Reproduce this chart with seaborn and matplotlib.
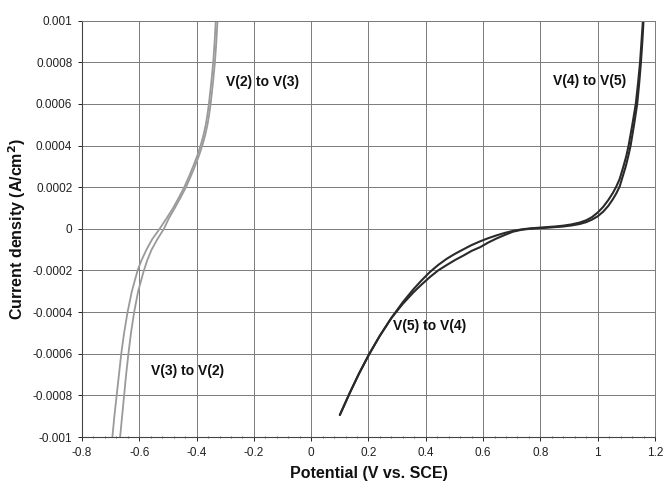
import numpy as np
import pandas as pd
import matplotlib
matplotlib.use("Agg")
import matplotlib.pyplot as plt
import seaborn as sns
from matplotlib.ticker import MultipleLocator

# V(2)/V(3) couple (two sweeps), potential in V, current density in A/cm2
v23_y = [-0.001, -0.0009, -0.0008, -0.0007, -0.0006, -0.0005, -0.0004, -0.0003, -0.0002, -0.00015,
         -0.0001, -0.00005, 0.0, 0.00005, 0.0001, 0.00015, 0.0002, 0.00025, 0.0003, 0.00035,
         0.0004, 0.00045, 0.0005, 0.00055, 0.0006, 0.0007, 0.0008, 0.0009, 0.001]
v23_outer_x = [-0.694, -0.687, -0.679, -0.671, -0.663, -0.653, -0.641, -0.626, -0.606, -0.592,
               -0.575, -0.555, -0.529, -0.505, -0.482, -0.462, -0.443, -0.427, -0.412, -0.398,
               -0.386, -0.376, -0.368, -0.362, -0.357, -0.349, -0.342, -0.337, -0.333]
v23_inner_x = [-0.667, -0.660, -0.653, -0.646, -0.638, -0.629, -0.618, -0.604, -0.584, -0.572,
               -0.557, -0.537, -0.514, -0.497, -0.476, -0.456, -0.437, -0.421, -0.406, -0.392,
               -0.380, -0.370, -0.362, -0.356, -0.351, -0.343, -0.336, -0.331, -0.327]

# V(4)/V(5) couple (two sweeps)
v45_x = [0.100, 0.134, 0.167, 0.202, 0.239, 0.280, 0.320, 0.357, 0.385, 0.414, 0.443, 0.473,
         0.502, 0.532, 0.560, 0.590, 0.618, 0.646, 0.675, 0.704, 0.733, 0.763, 0.792, 0.821,
         0.850, 0.879, 0.908, 0.937, 0.960, 0.980, 1.000, 1.019, 1.037, 1.053, 1.065, 1.077]
v45_a_y = [-0.000894, -0.000790, -0.000695, -0.000603, -0.000515, -0.000428, -0.000352, -0.000290,
           -0.000248, -0.000208, -0.000174, -0.000144, -0.000120, -0.000098, -0.000078, -0.000060,
           -0.000045, -0.000032, -0.000020, -0.000010, -0.000003, 0.000002, 0.000005, 0.000008,
           0.000011, 0.000015, 0.000021, 0.000030, 0.000041, 0.000056, 0.000078, 0.000105,
           0.000138, 0.000172, 0.000203, 0.000240]
v45_b_y = [-0.000894, -0.000790, -0.000695, -0.000603, -0.000515, -0.000428, -0.000360, -0.000305,
           -0.000268, -0.000232, -0.000200, -0.000174, -0.000150, -0.000128, -0.000106, -0.000088,
           -0.000066, -0.000047, -0.000030, -0.000014, -0.000005, 0.0, 0.000003, 0.000005,
           0.000008, 0.000011, 0.000016, 0.000023, 0.000032, 0.000044, 0.000060, 0.000082,
           0.000110, 0.000142, 0.000170, 0.000204]
# steep oxidation branch (potential read at fixed current levels)
v45_top_y = [0.0003, 0.00035, 0.0004, 0.0005, 0.0006, 0.0007, 0.0008, 0.0009, 0.001]
v45_a_top_x = [1.090, 1.100, 1.108, 1.121, 1.133, 1.141, 1.148, 1.153, 1.158]
v45_b_top_x = [1.098, 1.107, 1.115, 1.127, 1.138, 1.145, 1.151, 1.156, 1.160]

x_ticks = [-0.8, -0.6, -0.4, -0.2, 0, 0.2, 0.4, 0.6, 0.8, 1, 1.2]
x_tick_labels = ["-0.8", "-0.6", "-0.4", "-0.2", "0", "0.2", "0.4", "0.6", "0.8", "1", "1.2"]
y_ticks = [-0.001, -0.0008, -0.0006, -0.0004, -0.0002, 0, 0.0002, 0.0004, 0.0006, 0.0008, 0.001]
y_tick_labels = ["-0.001", "-0.0008", "-0.0006", "-0.0004", "-0.0002", "0",
                 "0.0002", "0.0004", "0.0006", "0.0008", "0.001"]

labels = ["V(2) to V(3)", "V(3) to V(2)", "V(4) to V(5)", "V(5) to V(4)"]
label_x = [-0.297, -0.56, 0.843, 0.284]
label_y = [0.000703, -0.000684, 0.000708, -0.000469]

sns.set_theme(style="white")
plt.rcParams['font.family'] = ['Liberation Sans', 'DejaVu Sans']

fig = plt.figure(figsize=(6.64, 4.84), dpi=100)
ax = fig.add_axes([0.1235, 0.097, 0.8629, 0.8605])

def draw(xs, ys, color, lw):
    df = pd.DataFrame({"x": xs, "y": ys})
    sns.lineplot(data=df, x="x", y="y", sort=False, estimator=None, color=color,
                 linewidth=lw, ax=ax)

draw(v23_outer_x, v23_y, "#9a9a9a", 1.3)
draw(v23_inner_x, v23_y, "#9a9a9a", 1.3)
draw(v45_x + v45_a_top_x, v45_a_y + v45_top_y, "#2a2a2a", 1.5)
draw(v45_x + v45_b_top_x, v45_b_y + v45_top_y, "#2a2a2a", 1.5)

ax.set_xlim(-0.8, 1.2)
ax.set_ylim(-0.001, 0.001)
ax.set_xticks(x_ticks)
ax.set_xticklabels(x_tick_labels)
ax.set_yticks(y_ticks)
ax.set_yticklabels(y_tick_labels)
ax.xaxis.set_minor_locator(MultipleLocator(0.04))
ax.grid(True, which="major", color="#7a7a7a", linewidth=0.7)
ax.tick_params(axis="both", which="major", labelsize=8.5, colors="#222222", length=3,
               direction="out", width=0.7, pad=4)
ax.tick_params(axis="x", which="minor", length=2, direction="inout", color="#555555", width=0.6,
               bottom=True)
ax.tick_params(axis="x", which="major", bottom=True)
ax.tick_params(axis="y", which="major", left=True)
for s in ["top", "right"]:
    ax.spines[s].set_color("#7a7a7a")
    ax.spines[s].set_linewidth(0.7)
for s in ["left", "bottom"]:
    ax.spines[s].set_color("#444444")
    ax.spines[s].set_linewidth(0.8)

ax.set_xlabel("Potential (V vs. SCE)", fontsize=11.5, fontweight="bold", labelpad=5, color="#111111")
ax.set_ylabel("Current density (A/cm$^\\mathbf{2}$)", fontsize=11.5, fontweight="bold", labelpad=3,
              color="#111111")

for t, lx, ly in zip(labels, label_x, label_y):
    ax.text(lx, ly, t, fontsize=10, fontweight="bold", ha="left", va="center", color="#111111")

fig.savefig("out.png", dpi=100)
